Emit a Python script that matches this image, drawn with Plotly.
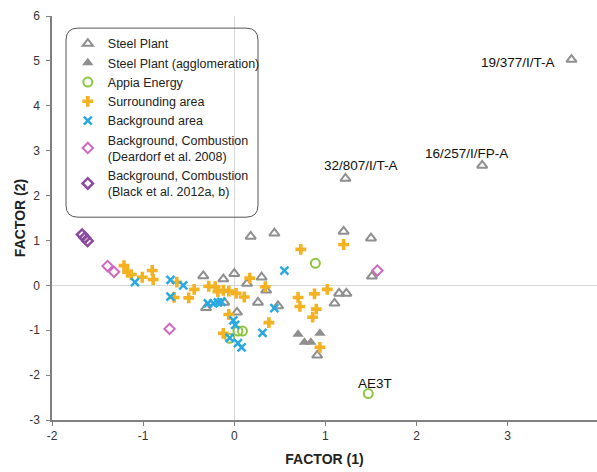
import plotly.graph_objects as go

steel_x = [3.70, 2.72, 1.22, 0.18, 0.44, 1.20, 1.50, 1.51, 1.15, 1.23, 1.10, -0.34, -0.12, 0.00, 0.30, 0.14, 0.35, -0.31, -0.11, 0.03, 0.26, 0.48, 0.91]
steel_y = [5.03, 2.67, 2.38, 1.09, 1.16, 1.20, 1.05, 0.20, -0.18, -0.18, -0.40, 0.21, 0.14, 0.26, 0.18, 0.04, -0.11, -0.50, -0.38, -0.60, -0.38, -0.46, -1.56]

agglo_x = [0.70, 0.77, 0.84, 0.94]
agglo_y = [-1.09, -1.27, -1.27, -1.07]

appia_x = [0.89, 0.04, 0.09, -0.05, 1.47]
appia_y = [0.49, -1.02, -1.02, -1.18, -2.41]

surr_x = [-1.21, -1.17, -1.13, -1.01, -0.90, -0.89, -0.63, -0.66, -0.50, -0.44, -0.28, -0.21, -0.18, -0.12, -0.06, 0.02, 0.11, 0.17, 0.34, 0.73, 1.20, 0.70, 0.72, 0.88, 1.02, 0.90, 0.86, 0.38, -0.06, -0.12, 0.94]
surr_y = [0.44, 0.29, 0.24, 0.18, 0.33, 0.13, 0.07, -0.27, -0.28, -0.09, -0.02, -0.03, -0.14, -0.11, -0.13, -0.18, -0.26, 0.16, -0.03, 0.80, 0.91, -0.27, -0.47, -0.19, -0.09, -0.53, -0.71, -0.83, -0.65, -1.07, -1.38]

bg_x = [-1.09, -0.70, -0.56, -0.70, -0.29, -0.23, -0.18, -0.14, -0.01, 0.01, -0.05, 0.04, 0.08, 0.31, 0.44, 0.55]
bg_y = [0.07, 0.12, 0.00, -0.25, -0.40, -0.40, -0.38, -0.37, -0.78, -0.88, -1.17, -1.29, -1.38, -1.06, -0.51, 0.33]

dear_x = [-1.39, -1.32, -0.71, 1.57]
dear_y = [0.43, 0.30, -0.97, 0.33]

black_x = [-1.67, -1.64, -1.61]
black_y = [1.13, 1.06, 0.99]

x_ticks = [-2, -1, 0, 1, 2, 3]
x_ticktext = ["-2", "-1", "0", "1", "2", "3"]
y_ticks = [-3, -2, -1, 0, 1, 2, 3, 4, 5, 6]
y_ticktext = ["-3", "-2", "-1", "0", "1", "2", "3", "4", "5", "6"]

labels = ["19/377/I/T-A", "16/257/I/FP-A", "32/807/I/T-A", "AE3T"]
label_x = [3.11, 2.55, 1.39, 1.54]
label_y = [4.97, 2.94, 2.67, -2.18]

GREY = "#8f8f8f"
ORANGE = "#f4b223"
BLUE = "#2aa9e0"
GREEN = "#8cc63e"
PINK = "#d06ac0"
PURPLE = "#8a4a9e"

fig = go.Figure()
fig.add_trace(go.Scatter(x=steel_x, y=steel_y, mode="markers", name="Steel Plant",
                         marker=dict(symbol="triangle-up-open", size=9, color=GREY, line=dict(width=2, color=GREY))))
fig.add_trace(go.Scatter(x=agglo_x, y=agglo_y, mode="markers", name="Steel Plant (agglomeration)",
                         marker=dict(symbol="triangle-up", size=10, color=GREY)))
fig.add_trace(go.Scatter(x=appia_x, y=appia_y, mode="markers", name="Appia Energy",
                         marker=dict(symbol="circle-open", size=9, color=GREEN, line=dict(width=2, color=GREEN))))
fig.add_trace(go.Scatter(x=surr_x, y=surr_y, mode="markers", name="Surrounding area",
                         marker=dict(symbol="cross", size=9, color=ORANGE, line=dict(width=0))))
fig.add_trace(go.Scatter(x=bg_x, y=bg_y, mode="markers", name="Background area",
                         marker=dict(symbol="x-thin", size=8, color=BLUE, line=dict(width=2.5, color=BLUE))))
fig.add_trace(go.Scatter(x=dear_x, y=dear_y, mode="markers", name="Background, Combustion<br>(Deardorf et al. 2008)",
                         marker=dict(symbol="diamond-open", size=8, color=PINK, line=dict(width=2, color=PINK))))
fig.add_trace(go.Scatter(x=black_x, y=black_y, mode="markers", name="Background, Combustion<br>(Black et al. 2012a, b)",
                         marker=dict(symbol="diamond-open", size=8, color=PURPLE, line=dict(width=2.5, color=PURPLE))))

for t, x, y in zip(labels, label_x, label_y):
    fig.add_annotation(x=x, y=y, text=t, showarrow=False, xref="x", yref="y",
                       font=dict(size=13.5, color="#111"))

# rounded legend box (paper coordinates)
x0, x1, y0, y1 = 0.0257, 0.378, 0.502, 0.970
rx, ry = 0.022, 0.0297
path = (f"M {x0+rx},{y1} L {x1-rx},{y1} Q {x1},{y1} {x1},{y1-ry} "
        f"L {x1},{y0+ry} Q {x1},{y0} {x1-rx},{y0} L {x0+rx},{y0} "
        f"Q {x0},{y0} {x0},{y0+ry} L {x0},{y1-ry} Q {x0},{y1} {x0+rx},{y1} Z")
fig.add_shape(type="path", path=path, xref="paper", yref="paper",
              line=dict(color="#555", width=1), fillcolor="rgba(255,255,255,0)", layer="above")

axis_common = dict(showgrid=False, zeroline=True, zerolinecolor="#d8d8d8", zerolinewidth=1,
                   showline=True, linecolor="#808080", linewidth=1.5,
                   ticks="outside", ticklen=4, tickcolor="#808080", automargin=False,
                   tickfont=dict(size=12, color="#333"))

fig.update_layout(
    width=597, height=472,
    margin=dict(l=52, r=0, t=16, b=52),
    plot_bgcolor="white", paper_bgcolor="white",
    font=dict(family="Liberation Sans, Arial, sans-serif", color="#222"),
    xaxis=dict(range=[-2, 3.98], tickvals=x_ticks, ticktext=x_ticktext,
               title=dict(text="<b>FACTOR (1)</b>", font=dict(size=14, color="#222"), standoff=12),
               **axis_common),
    yaxis=dict(range=[-3, 6], tickvals=y_ticks, ticktext=y_ticktext, ticklabelstandoff=4,
               title=dict(text="<b>FACTOR (2)</b>", font=dict(size=14, color="#222"), standoff=0),
               **axis_common),
    legend=dict(x=0.029, y=0.968, xanchor="left", yanchor="top",
                bgcolor="rgba(0,0,0,0)", borderwidth=0,
                font=dict(size=12.5, color="#222"), tracegroupgap=0, itemsizing="trace"),
    showlegend=True,
)

fig.write_html("out.html", config={"displayModeBar": False},
               post_script="document.body.style.margin='0';document.body.style.padding='0';")
